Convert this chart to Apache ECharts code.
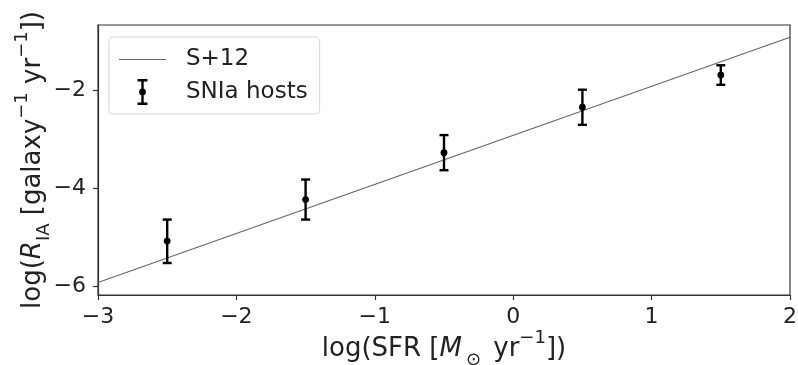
<!DOCTYPE html>
<html>
<head>
<meta charset="utf-8">
<script src="https://cdn.jsdelivr.net/npm/echarts@6/dist/echarts.min.js"></script>
<style>html,body{margin:0;padding:0;background:#fff}#c{width:798px;height:365px}</style>
</head>
<body>
<div id="c"></div>
<script>
// ---- data ----
const hostX = [-2.5, -1.5, -0.5, 0.5, 1.5];
const hostY = [-5.08, -4.23, -3.27, -2.34, -1.68];
const hostLow = [-5.53, -4.64, -3.63, -2.70, -1.88];
const hostHigh = [-4.64, -3.82, -2.91, -1.98, -1.48];
const relX = [-3, 2];
const relY = [-5.93, -0.906];
const xTicks = [-3, -2, -1, 0, 1, 2];
const yTicks = [-6, -4, -2];
const seriesNames = ['S+12', 'SNIa hosts'];

const errData = hostX.map((x, i) => [x, hostY[i], hostLow[i], hostHigh[i]]);
const lineData = relX.map((x, i) => [x, relY[i]]);

const FONT = 'DejaVu Sans';
const minus = v => String(v).replace('-', '\u2212');

const chart = echarts.init(document.getElementById('c'), null, {renderer: 'canvas'});
chart.setOption({
  animation: false,
  backgroundColor: '#fff',
  textStyle: {fontFamily: FONT},
  grid: {left: 98, top: 25, right: 8, bottom: 70, containLabel: false, outerBoundsMode: 'none',
         show: true, borderColor: '#333', borderWidth: 1.2, backgroundColor: 'transparent'},
  legend: {
    orient: 'vertical',
    left: 109, top: 37,
    padding: [11, 12, 9, 10],
    itemGap: 8,
    itemWidth: 47, itemHeight: 26,
    backgroundColor: '#fff',
    borderColor: '#d6d6d6', borderWidth: 1, borderRadius: 4,
    textStyle: {fontFamily: FONT, fontSize: 23, color: '#222', padding: [0, 0, 0, 15]},
    data: [
      {name: seriesNames[0], icon: 'path://M0,0H48V1.2H0Z', itemStyle: {color: '#666'}},
      {name: seriesNames[1], icon: 'path://M1,0H11V2.4H1Z M1,23.6H11V26H1Z M4.8,0H7.2V26H4.8Z M2.6,13A3.4,3.4 0 1,1 9.4,13A3.4,3.4 0 1,1 2.6,13Z', itemStyle: {color: '#000'}}
    ]
  },
  xAxis: {
    type: 'value', min: -3, max: 2, interval: 1,
    name: '{n|log(SFR [}{i|M}{sub|\u2299}{n| yr}{sup|\u22121}{n|])}',
    nameLocation: 'middle', nameGap: 34, nameMoveOverlap: false,
    nameTextStyle: {
      rich: {
        n: {fontFamily: FONT, fontSize: 26, color: '#222', lineHeight: 40},
        i: {fontFamily: FONT, fontSize: 26, color: '#222', fontStyle: 'italic', lineHeight: 40},
        sub: {fontFamily: FONT, fontSize: 18, color: '#222', lineHeight: 36, verticalAlign: 'bottom', padding: [0, 4, 0, 4]},
        sup: {fontFamily: FONT, fontSize: 18, color: '#222', lineHeight: 14, verticalAlign: 'top'}
      }
    },
    axisLine: {show: true, onZero: false, lineStyle: {color: '#333', width: 1.2}},
    axisTick: {show: true, length: 5, inside: false, lineStyle: {color: '#333', width: 1.2}},
    axisLabel: {fontFamily: FONT, fontSize: 22, color: '#222', margin: 11, formatter: minus, customValues: xTicks},
    splitLine: {show: false}
  },
  yAxis: {
    type: 'value', min: -6.185, max: -0.655,
    name: '{n|log(}{i|R}{sub|IA}{n| [galaxy}{sup|\u22121}{n| yr}{sup|\u22121}{n|])}',
    nameLocation: 'middle', nameGap: 45, nameRotate: 90, nameMoveOverlap: false,
    nameTextStyle: {
      rich: {
        n: {fontFamily: FONT, fontSize: 26, color: '#222', lineHeight: 40},
        i: {fontFamily: FONT, fontSize: 26, color: '#222', fontStyle: 'italic', lineHeight: 40},
        sub: {fontFamily: FONT, fontSize: 18, color: '#222', lineHeight: 30, verticalAlign: 'bottom'},
        sup: {fontFamily: FONT, fontSize: 18, color: '#222', lineHeight: 14, verticalAlign: 'top'}
      }
    },
    axisLine: {show: true, onZero: false, lineStyle: {color: '#333', width: 1.2}},
    axisTick: {show: true, length: 5, inside: false, lineStyle: {color: '#333', width: 1.2}, customValues: yTicks},
    axisLabel: {fontFamily: FONT, fontSize: 22, color: '#222', margin: 12, formatter: minus, customValues: yTicks},
    splitLine: {show: false}
  },
  series: [
    {
      name: seriesNames[0], type: 'line', data: lineData, showSymbol: false, symbol: 'none',
      lineStyle: {color: '#666', width: 1.2}, itemStyle: {color: '#666'}, z: 2
    },
    {
      name: seriesNames[1], type: 'custom', data: errData, z: 3,
      itemStyle: {color: '#000'},
      renderItem: function (params, api) {
        const x = api.value(0), y = api.value(1), lo = api.value(2), hi = api.value(3);
        const p = api.coord([x, y]);
        const pl = api.coord([x, lo]);
        const ph = api.coord([x, hi]);
        const cw = 4.5;
        const st = {stroke: '#000', lineWidth: 2.4};
        return {
          type: 'group',
          children: [
            {type: 'line', shape: {x1: p[0], y1: pl[1], x2: p[0], y2: ph[1]}, style: st},
            {type: 'line', shape: {x1: p[0] - cw, y1: pl[1], x2: p[0] + cw, y2: pl[1]}, style: st},
            {type: 'line', shape: {x1: p[0] - cw, y1: ph[1], x2: p[0] + cw, y2: ph[1]}, style: st},
            {type: 'circle', shape: {cx: p[0], cy: p[1], r: 3.4}, style: {fill: '#000'}}
          ]
        };
      }
    }
  ]
});
</script>
</body>
</html>
